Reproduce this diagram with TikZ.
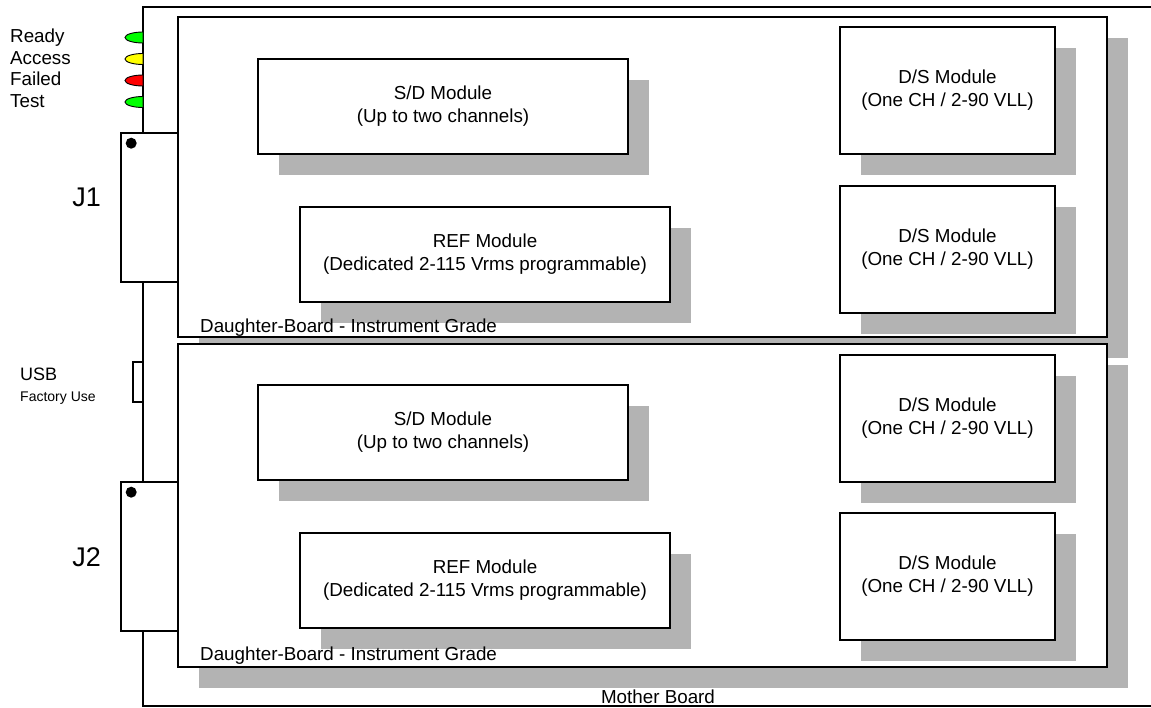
\documentclass[tikz,border=0pt]{standalone}
\usepackage{fontspec}
\setmainfont{Liberation Sans}
\usetikzlibrary{positioning,shadows}

\definecolor{shadowgray}{RGB}{179,179,179}
\definecolor{ledgreen}{RGB}{0,255,0}
\definecolor{ledyellow}{RGB}{255,255,0}
\definecolor{ledred}{RGB}{255,0,0}

\tikzset{
  txt/.style={font=\fontsize{18.8}{23}\selectfont, inner sep=0pt},
  board/.style={draw=black, fill=white, line width=1.6pt, inner sep=0pt},
  shadowed/.style={drop shadow={shadow xshift=21pt, shadow yshift=-21pt, fill=shadowgray, opacity=1}},
  sdbox/.style={board, shadowed, txt, align=center, minimum width=370pt, minimum height=95pt},
  dsbox/.style={board, shadowed, txt, align=center, minimum width=215pt, minimum height=127pt},
  led/.style={draw=black, line width=0.9pt},
}

\begin{document}
\begin{tikzpicture}[x=1pt, y=-1pt]

  \useasboundingbox (0,0) rectangle (1151,708);

  % mother board
  \filldraw[board] (143,7) rectangle (1170,706);
  \node[txt, anchor=base] (mblabel) at (658,703) {Mother Board};

  % status leds
  \filldraw[led, fill=ledgreen]  (143,32)  arc[start angle=90, end angle=270, x radius=18pt, y radius=5.5pt] -- cycle;
  \filldraw[led, fill=ledyellow] (143,53.5) arc[start angle=90, end angle=270, x radius=18pt, y radius=5.5pt] -- cycle;
  \filldraw[led, fill=ledred]    (143,75)  arc[start angle=90, end angle=270, x radius=18pt, y radius=5.5pt] -- cycle;
  \filldraw[led, fill=ledgreen]  (143,96.5) arc[start angle=90, end angle=270, x radius=18pt, y radius=5.5pt] -- cycle;

  \node[txt, anchor=base west] (ready)  at (10,43)    {Ready};
  \node[txt, anchor=base west] (access) at (10,64.5)  {Access};
  \node[txt, anchor=base west] (failed) at (10,86)    {Failed};
  \node[txt, anchor=base west] (test)   at (10,107.5) {Test};

  % connectors
  \node[board, minimum width=57pt, minimum height=149pt] (j1) at (149.5,207.5) {};
  \fill ([xshift=11pt, yshift=-11pt]j1.north west) circle (5.5pt);
  \node[txt, font=\fontsize{27}{30}\selectfont, anchor=base east] (j1label) at (101,207) {J1};

  \node[board, minimum width=57pt, minimum height=149pt] (j2) at (149.5,556.5) {};
  \fill ([xshift=11pt, yshift=-11pt]j2.north west) circle (5.5pt);
  \node[txt, font=\fontsize{27}{30}\selectfont, anchor=base east] (j2label) at (101,566) {J2};

  \node[board, line width=1.3pt, minimum width=10pt, minimum height=40pt] (usb) at (138,382) {};
  \node[txt, font=\fontsize{18}{20}\selectfont, anchor=base west] (usblabel) at (20,381) {USB};
  \node[txt, font=\fontsize{14}{16}\selectfont, anchor=base west] (factory) at (20,401) {Factory Use};

  % upper daughter board
  \node[board, shadowed, minimum width=929pt, minimum height=320pt] (db1) at (642.5,177) {};

  \node[sdbox] (sd1)  at (443,106.5)   {S/D Module\\(Up to two channels)};
  \node[sdbox] (ref1) at (485,254.5)   {REF Module\\(Dedicated 2-115 Vrms programmable)};
  \node[dsbox] (ds1)  at (947.5,90.5)  {D/S Module\\(One CH / 2-90 VLL)};
  \node[dsbox] (ds2)  at (947.5,249.5) {D/S Module\\(One CH / 2-90 VLL)};

  \node[txt, anchor=base west] (db1label) at (200,333) {Daughter-Board - Instrument Grade};

  % lower daughter board
  \node[board, shadowed, minimum width=929pt, minimum height=323pt] (db2) at (642.5,505.5) {};

  \node[sdbox] (sd2)  at (443,432.5)   {S/D Module\\(Up to two channels)};
  \node[sdbox] (ref2) at (485,580.5)   {REF Module\\(Dedicated 2-115 Vrms programmable)};
  \node[dsbox] (ds3)  at (947.5,418.5) {D/S Module\\(One CH / 2-90 VLL)};
  \node[dsbox] (ds4)  at (947.5,576.5) {D/S Module\\(One CH / 2-90 VLL)};

  \node[txt, anchor=base west] (db2label) at (200,660) {Daughter-Board - Instrument Grade};

\end{tikzpicture}
\end{document}
